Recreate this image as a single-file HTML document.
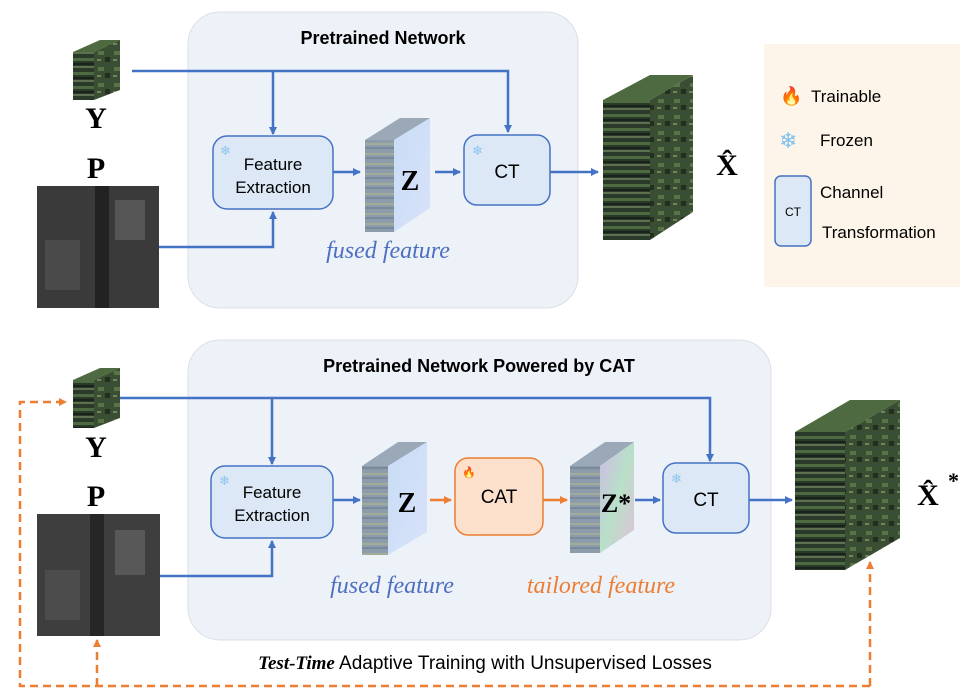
<!DOCTYPE html><html><head><style>body{margin:0;background:#fff}svg{display:block}</style></head><body>
<svg width="969" height="700" viewBox="0 0 969 700" xmlns="http://www.w3.org/2000/svg" font-family="Liberation Sans, sans-serif">
<defs>
<marker id="ab" markerWidth="8" markerHeight="8" refX="7" refY="4" orient="auto" markerUnits="userSpaceOnUse"><path d="M0,0 L8,4 L0,8z" fill="#4472c4"/></marker>
<marker id="ao" markerWidth="8" markerHeight="8" refX="7" refY="4" orient="auto" markerUnits="userSpaceOnUse"><path d="M0,0 L8,4 L0,8z" fill="#ed7d31"/></marker>
<pattern id="hs" width="40" height="14" patternUnits="userSpaceOnUse"><rect width="40" height="14" fill="#2a3a2a"/><rect y="2" width="40" height="3" fill="#4e6a40"/><rect y="7" width="40" height="2" fill="#1a221c"/><rect y="10" width="40" height="2" fill="#5e7050"/></pattern>
<pattern id="hf" width="16" height="16" patternUnits="userSpaceOnUse"><rect width="16" height="16" fill="#3a4e34"/><rect x="2" y="3" width="6" height="4" fill="#5a7448"/><rect x="9" y="9" width="5" height="5" fill="#24301f"/><rect x="1" y="11" width="4" height="2" fill="#6e845a"/></pattern>
<linearGradient id="fz" x1="0" y1="0" x2="1" y2="1"><stop offset="0" stop-color="#c8dcf5"/><stop offset="1" stop-color="#d8e2fa"/></linearGradient>
<pattern id="fs" width="20" height="10" patternUnits="userSpaceOnUse"><rect width="20" height="10" fill="#8d9caa"/><rect y="3" width="20" height="2" fill="#a2aa98"/><rect y="7" width="20" height="2" fill="#7a8a9c"/></pattern>
<linearGradient id="ft" x1="0" y1="0" x2="1" y2="1"><stop offset="0" stop-color="#d0b8e8"/><stop offset=".5" stop-color="#b8e0c8"/><stop offset="1" stop-color="#e0c0d8"/></linearGradient>
</defs>
<rect x="188" y="12" width="390" height="296" rx="32" fill="#edf1f8" stroke="#dcdfe4"/>
<text x="383" y="44" text-anchor="middle" font-size="18" font-weight="bold">Pretrained Network</text>
<polygon points="73,52 100,40 120,40 94,52" fill="#4e6a40"/><polygon points="94,52 120,40 120,90 94,100" fill="url(#hf)"/><rect x="73" y="52" width="21" height="48" fill="url(#hs)"/>
<text x="96" y="128" text-anchor="middle" font-size="30" font-weight="bold" font-family="Liberation Serif, serif">Y</text>
<text x="96" y="178" text-anchor="middle" font-size="30" font-weight="bold" font-family="Liberation Serif, serif">P</text>
<rect x="37" y="186" width="122" height="122" fill="#3a3a3a"/><rect x="95" y="186" width="14" height="122" fill="#222"/><rect x="115" y="200" width="30" height="40" fill="#555"/><rect x="45" y="240" width="35" height="50" fill="#4a4a4a"/>
<path d="M132,71 H508 V132" fill="none" stroke="#4472c4" stroke-width="2.5" marker-end="url(#ab)"/>
<path d="M273,71 V134" fill="none" stroke="#4472c4" stroke-width="2.5" marker-end="url(#ab)"/>
<path d="M159,247 H273 V212" fill="none" stroke="#4472c4" stroke-width="2.5" marker-end="url(#ab)"/>
<rect x="213" y="136" width="120" height="73" rx="14" fill="#dde8f6" stroke="#4472c4" stroke-width="1.5"/>
<text x="273" y="170" text-anchor="middle" font-size="17">Feature</text><text x="273" y="193" text-anchor="middle" font-size="17">Extraction</text>
<text x="220" y="155" font-size="13" fill="#8cc4ee">❄</text>
<path d="M333,172 H360" stroke="#4472c4" stroke-width="2.5" marker-end="url(#ab)"/>
<polygon points="365,140 400,118 430,118 394,140" fill="#9aa8b8"/><polygon points="394,140 430,118 430,208 394,232" fill="url(#fz)"/><rect x="365" y="140" width="29" height="92" fill="url(#fs)"/>
<text x="410" y="190" text-anchor="middle" font-size="28" font-weight="bold" font-family="Liberation Serif, serif">Z</text>
<path d="M435,172 H460" stroke="#4472c4" stroke-width="2.5" marker-end="url(#ab)"/>
<rect x="464" y="135" width="86" height="70" rx="13" fill="#dde8f6" stroke="#4472c4" stroke-width="1.5"/>
<text x="507" y="178" text-anchor="middle" font-size="19">CT</text><text x="472" y="155" font-size="13" fill="#8cc4ee">❄</text>
<path d="M550,172 H598" stroke="#4472c4" stroke-width="2.5" marker-end="url(#ab)"/>
<text x="388" y="258" text-anchor="middle" font-size="24" font-style="italic" fill="#4d6fc0" font-family="Liberation Serif, serif">fused feature</text>
<polygon points="603,100 650,75 693,75 650,100" fill="#4e6a40"/><polygon points="650,100 693,75 693,212 650,240" fill="url(#hf)"/><rect x="603" y="100" width="47" height="140" fill="url(#hs)"/>
<text x="727" y="175" text-anchor="middle" font-size="30" font-weight="bold" font-family="Liberation Serif, serif">X̂</text>
<rect x="764" y="44" width="196" height="243" fill="#fdf5ea"/>
<text x="780" y="102" font-size="18">🔥</text><text x="811" y="102" font-size="17">Trainable</text>
<text x="779" y="148" font-size="22" fill="#7cc0ee">❄</text><text x="820" y="146" font-size="17">Frozen</text>
<rect x="775" y="176" width="36" height="70" rx="6" fill="#dde8f6" stroke="#4472c4" stroke-width="1.5"/>
<text x="793" y="216" text-anchor="middle" font-size="12">CT</text>
<text x="820" y="198" font-size="17">Channel</text><text x="822" y="238" font-size="17">Transformation</text>
<rect x="188" y="340" width="583" height="300" rx="32" fill="#edf1f8" stroke="#dcdfe4"/>
<text x="479" y="372" text-anchor="middle" font-size="18" font-weight="bold">Pretrained Network Powered by CAT</text>
<polygon points="73,380 100,368 120,368 94,380" fill="#4e6a40"/><polygon points="94,380 120,368 120,418 94,428" fill="url(#hf)"/><rect x="73" y="380" width="21" height="48" fill="url(#hs)"/>
<text x="96" y="457" text-anchor="middle" font-size="30" font-weight="bold" font-family="Liberation Serif, serif">Y</text>
<text x="96" y="506" text-anchor="middle" font-size="30" font-weight="bold" font-family="Liberation Serif, serif">P</text>
<rect x="37" y="514" width="123" height="122" fill="#3e3e3e"/><rect x="90" y="514" width="14" height="122" fill="#262626"/><rect x="115" y="530" width="30" height="45" fill="#585858"/><rect x="45" y="570" width="35" height="50" fill="#4c4c4c"/>
<path d="M120,398 H710 V461" fill="none" stroke="#4472c4" stroke-width="2.5" marker-end="url(#ab)"/>
<path d="M272,398 V464" fill="none" stroke="#4472c4" stroke-width="2.5" marker-end="url(#ab)"/>
<path d="M160,576 H272 V541" fill="none" stroke="#4472c4" stroke-width="2.5" marker-end="url(#ab)"/>
<rect x="211" y="466" width="122" height="72" rx="14" fill="#dde8f6" stroke="#4472c4" stroke-width="1.5"/>
<text x="272" y="498" text-anchor="middle" font-size="17">Feature</text><text x="272" y="521" text-anchor="middle" font-size="17">Extraction</text>
<text x="219" y="485" font-size="13" fill="#8cc4ee">❄</text>
<path d="M333,500 H360" stroke="#4472c4" stroke-width="2.5" marker-end="url(#ab)"/>
<polygon points="362,466 398,442 427,442 388,466" fill="#9aa8b8"/><polygon points="388,466 427,442 427,532 388,555" fill="url(#fz)"/><rect x="362" y="466" width="26" height="89" fill="url(#fs)"/>
<text x="407" y="512" text-anchor="middle" font-size="28" font-weight="bold" font-family="Liberation Serif, serif">Z</text>
<path d="M430,500 H451" stroke="#ed7d31" stroke-width="2.5" marker-end="url(#ao)"/>
<rect x="455" y="458" width="88" height="77" rx="13" fill="#fde0cc" stroke="#ed7d31" stroke-width="1.5"/>
<text x="499" y="503" text-anchor="middle" font-size="19">CAT</text><text x="462" y="476" font-size="11">🔥</text>
<path d="M543,500 H567" stroke="#ed7d31" stroke-width="2.5" marker-end="url(#ao)"/>
<polygon points="570,466 605,442 634,442 600,466" fill="#9aa8b8"/><polygon points="600,466 634,442 634,530 600,553" fill="url(#ft)"/><rect x="570" y="466" width="30" height="87" fill="url(#fs)"/>
<text x="616" y="512" text-anchor="middle" font-size="26" font-weight="bold" font-family="Liberation Serif, serif">Z*</text>
<path d="M635,500 H660" stroke="#4472c4" stroke-width="2.5" marker-end="url(#ab)"/>
<rect x="663" y="463" width="86" height="70" rx="13" fill="#dde8f6" stroke="#4472c4" stroke-width="1.5"/>
<text x="706" y="506" text-anchor="middle" font-size="19">CT</text><text x="671" y="483" font-size="13" fill="#8cc4ee">❄</text>
<path d="M749,500 H792" stroke="#4472c4" stroke-width="2.5" marker-end="url(#ab)"/>
<text x="392" y="593" text-anchor="middle" font-size="24" font-style="italic" fill="#4d6fc0" font-family="Liberation Serif, serif">fused feature</text>
<text x="601" y="593" text-anchor="middle" font-size="24" font-style="italic" fill="#ed7d31" font-family="Liberation Serif, serif">tailored feature</text>
<polygon points="795,432 850,400 900,400 845,432" fill="#4e6a40"/><polygon points="845,432 900,400 900,538 845,570" fill="url(#hf)"/><rect x="795" y="432" width="50" height="138" fill="url(#hs)"/>
<text x="928" y="505" text-anchor="middle" font-size="30" font-weight="bold" font-family="Liberation Serif, serif">X̂</text><text x="948" y="488" font-size="22" font-weight="bold" font-family="Liberation Serif, serif">*</text>
<path d="M870,686 H20 V402 H66" fill="none" stroke="#ed7d31" stroke-width="2.5" stroke-dasharray="8,5" marker-end="url(#ao)"/>
<path d="M870,686 V562" fill="none" stroke="#ed7d31" stroke-width="2.5" stroke-dasharray="8,5" marker-end="url(#ao)"/>
<path d="M97,686 V640" fill="none" stroke="#ed7d31" stroke-width="2.5" stroke-dasharray="8,5" marker-end="url(#ao)"/>
<text x="485" y="669" text-anchor="middle" font-size="19"><tspan font-weight="bold" font-style="italic" font-family="Liberation Serif, serif">Test-Time</tspan> Adaptive Training with Unsupervised Losses</text>
</svg></body></html>
